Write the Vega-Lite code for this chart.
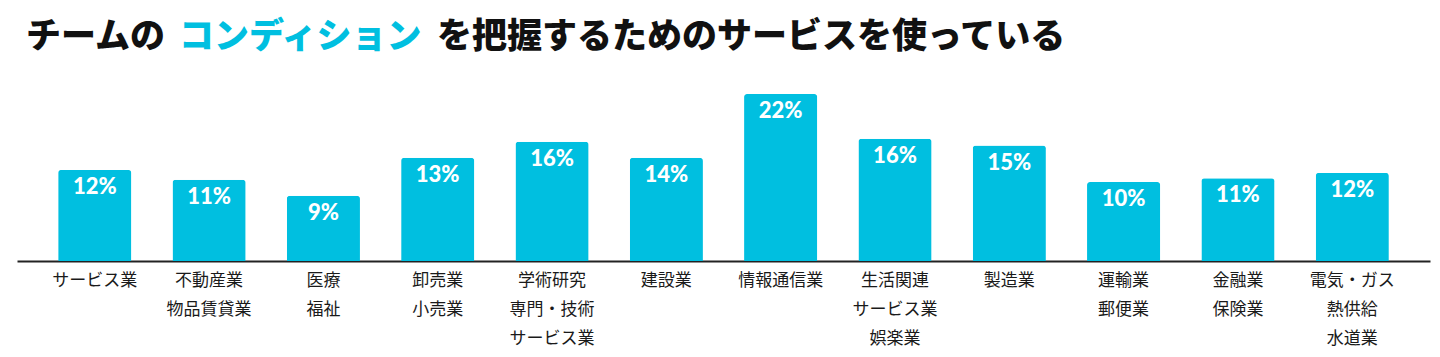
{
  "$schema": "https://vega.github.io/schema/vega-lite/v6.json",
  "padding": {"left": 17, "top": 20, "right": 5, "bottom": 8},
  "background": "white",
  "config": {"view": {"stroke": null}},
  "spacing": 38,
  "vconcat": [
    {
      "spacing": 12,
      "hconcat": [
        {
          "title": {"text": "チームの", "color": "#111111", "font": "Noto Sans CJK JP", "fontSize": 35, "fontWeight": 900, "anchor": "start", "offset": 0, "dx": 9},
          "width": 1, "height": 1,
          "data": {"values": []},
          "mark": "text"
        },
        {
          "title": {"text": "コンディション", "color": "#00BFE0", "font": "Noto Sans CJK JP", "fontSize": 35, "fontWeight": 900, "anchor": "start", "offset": 0},
          "width": 1, "height": 1,
          "data": {"values": []},
          "mark": "text"
        },
        {
          "title": {"text": "を把握するためのサービスを使っている", "color": "#111111", "font": "Noto Sans CJK JP", "fontSize": 35, "fontWeight": 900, "anchor": "start", "offset": 0},
          "width": 1, "height": 1,
          "data": {"values": []},
          "mark": "text"
        }
      ]
    },
    {
      "width": 1413,
      "height": 167,
      "data": {
        "values": [
          {"industry": "サービス業", "share": 12.0, "label": "12%"},
          {"industry": "不動産業 物品賃貸業", "share": 10.7, "label": "11%"},
          {"industry": "医療 福祉", "share": 8.6, "label": "9%"},
          {"industry": "卸売業 小売業", "share": 13.6, "label": "13%"},
          {"industry": "学術研究 専門・技術 サービス業", "share": 15.7, "label": "16%"},
          {"industry": "建設業", "share": 13.6, "label": "14%"},
          {"industry": "情報通信業", "share": 22.0, "label": "22%"},
          {"industry": "生活関連 サービス業 娯楽業", "share": 16.1, "label": "16%"},
          {"industry": "製造業", "share": 15.2, "label": "15%"},
          {"industry": "運輸業 郵便業", "share": 10.4, "label": "10%"},
          {"industry": "金融業 保険業", "share": 10.9, "label": "11%"},
          {"industry": "電気・ガス 熱供給 水道業", "share": 11.6, "label": "12%"}
        ]
      },
      "encoding": {
        "x": {
          "field": "industry", "type": "nominal", "sort": null,
          "scale": {"paddingInner": 0.36, "paddingOuter": 0.36},
          "axis": {
            "title": null, "labelAngle": 0, "labelExpr": "split(datum.value, ' ')",
            "labelFont": "Noto Sans CJK JP", "labelFontSize": 17, "labelColor": "#1a1a1a",
            "labelLineHeight": 29, "labelPadding": 11, "labelLimit": 0,
            "ticks": false, "grid": false, "domainColor": "#222222", "domainWidth": 2
          }
        },
        "y": {"field": "share", "type": "quantitative", "scale": {"domain": [0, 22], "nice": false}, "axis": null}
      },
      "layer": [
        {"mark": {"type": "bar", "color": "#00BFE0", "cornerRadiusTopLeft": 3, "cornerRadiusTopRight": 3}},
        {"mark": {"type": "text", "color": "white", "font": "Lato", "fontSize": 22, "fontWeight": 900, "baseline": "middle", "dy": 17}, "encoding": {"text": {"field": "label"}}}
      ]
    }
  ]
}
